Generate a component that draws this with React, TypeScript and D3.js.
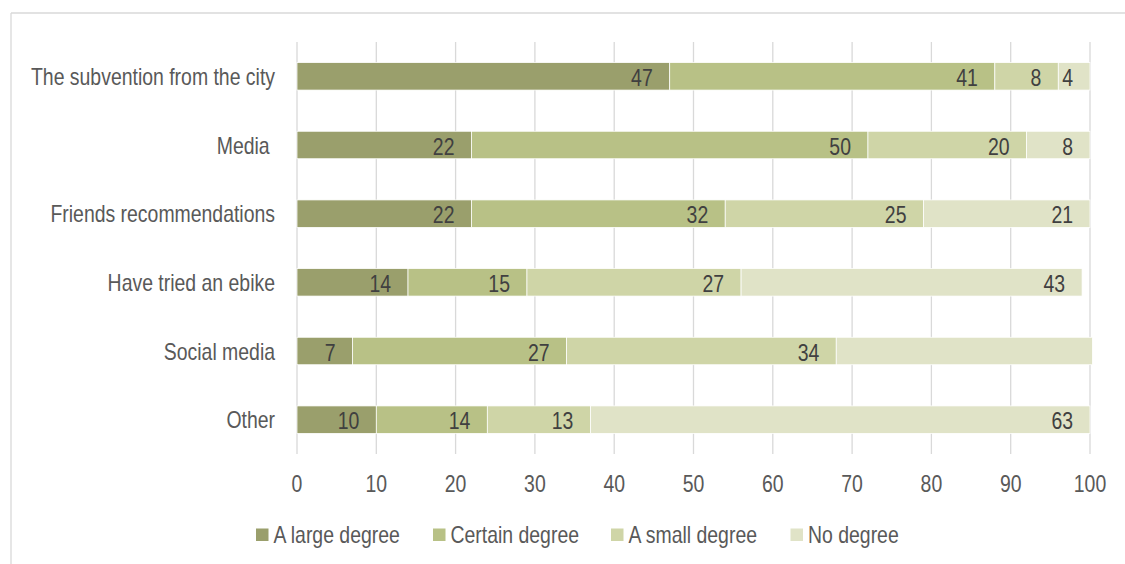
import React from "react";
import * as d3 from "d3";

// Categories, top to bottom
const categories = [
  "The subvention from the city",
  "Media ",
  "Friends recommendations",
  "Have tried an ebike",
  "Social media",
  "Other",
];

const seriesNames = ["A large degree", "Certain degree", "A small degree", "No degree"];

const largeDegree = [47, 22, 22, 14, 7, 10];
const certainDegree = [41, 50, 32, 15, 27, 14];
const smallDegree = [8, 20, 25, 27, 34, 13];
const noDegree = [4, 8, 21, 43, 32.3, 63];

// Segments whose value label is not shown: [category index, series index]
const hiddenLabels: [number, number][] = [[4, 3]];

const xTicks = [0, 10, 20, 30, 40, 50, 60, 70, 80, 90, 100];

const colors = ["#9a9f6c", "#b8c186", "#cfd5a7", "#e0e3c7"];

const W = 1125;
const H = 564;
const FONT = "'Liberation Sans', Arial, sans-serif";
const FS = 23;
// horizontal compression to get a narrow face from Liberation Sans
const NARROW = 0.845;

function NarrowText(props: {
  x: number;
  y: number;
  anchor?: "start" | "middle" | "end";
  fill: string;
  children: React.ReactNode;
}) {
  return (
    <text
      transform={`translate(${props.x},${props.y}) scale(${NARROW},1)`}
      textAnchor={props.anchor ?? "start"}
      fontSize={FS}
      fill={props.fill}
      style={{ whiteSpace: "pre" }}
    >
      {props.children}
    </text>
  );
}

export default function App() {
  const x = d3.scaleLinear().domain([0, 100]).range([297, 1090]);
  const y = d3
    .scaleBand<string>()
    .domain(categories)
    .range([42, 454])
    .paddingInner(0.6)
    .paddingOuter(0.3);

  const rows = categories.map((c, i) => ({
    category: c,
    values: [largeDegree[i], certainDegree[i], smallDegree[i], noDegree[i]],
  }));

  const stack = d3
    .stack<{ category: string; values: number[] }, number>()
    .keys([0, 1, 2, 3])
    .value((d, k) => d.values[k]);
  const stacked = stack(rows);

  const isHidden = (ci: number, si: number) =>
    hiddenLabels.some(([a, b]) => a === ci && b === si);

  const legendX = [256, 433, 611, 790.5];
  const mid = (c: string) => y(c)! + y.bandwidth() / 2;

  return (
    <svg
      width={W}
      height={H}
      style={{ position: "absolute", left: 0, top: 0, background: "#fff" }}
      fontFamily={FONT}
    >
      {/* chart frame */}
      <line x1={11} x2={W} y1={13} y2={13} stroke="#d9d9d9" strokeWidth={1.3} />
      <line x1={11} x2={11} y1={13} y2={H} stroke="#d9d9d9" strokeWidth={1.3} />

      {/* vertical gridlines */}
      {xTicks.map((t) => (
        <line
          key={t}
          x1={x(t)}
          x2={x(t)}
          y1={42}
          y2={454}
          stroke="#d9d9d9"
          strokeWidth={1.3}
        />
      ))}

      {/* stacked bars */}
      {stacked.map((layer, si) => (
        <g key={si} fill={colors[si]}>
          {layer.map((seg, ci) => (
            <rect
              key={ci}
              x={x(seg[0])}
              y={y(categories[ci])!}
              width={x(seg[1]) - x(seg[0])}
              height={y.bandwidth()}
              stroke="#ffffff"
              strokeWidth={0.75}
            />
          ))}
        </g>
      ))}

      {/* value labels, inside end */}
      {stacked.map((layer, si) =>
        layer.map((seg, ci) =>
          isHidden(ci, si) ? null : (
            <NarrowText
              key={`${si}-${ci}`}
              x={x(seg[1]) - 17}
              y={mid(categories[ci]) + 9.5}
              anchor="end"
              fill="#404040"
            >
              {rows[ci].values[si]}
            </NarrowText>
          )
        )
      )}

      {/* category labels */}
      {categories.map((c) => (
        <NarrowText key={c} x={275} y={mid(c) + 8.5} anchor="end" fill="#595959">
          {c}
        </NarrowText>
      ))}

      {/* x tick labels */}
      {xTicks.map((t) => (
        <NarrowText key={t} x={x(t)} y={491.5} anchor="middle" fill="#595959">
          {t}
        </NarrowText>
      ))}

      {/* legend */}
      {seriesNames.map((n, i) => (
        <g key={n}>
          <rect x={legendX[i]} y={528.5} width={12.5} height={12.5} fill={colors[i]} />
          <NarrowText x={legendX[i] + 17.5} y={542.5} fill="#595959">
            {n}
          </NarrowText>
        </g>
      ))}
    </svg>
  );
}
